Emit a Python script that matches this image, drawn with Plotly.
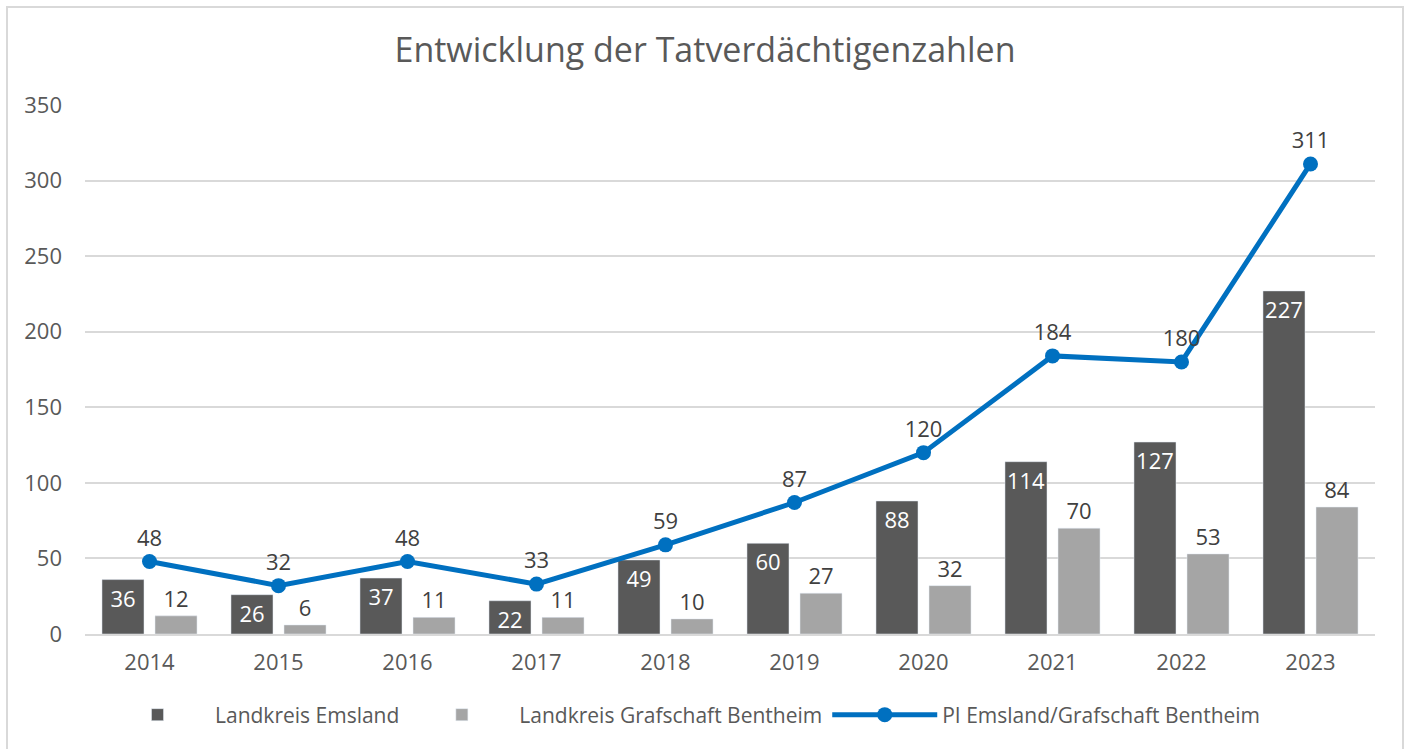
import plotly.graph_objects as go

years = ["2014", "2015", "2016", "2017", "2018", "2019", "2020", "2021", "2022", "2023"]
emsland = [36, 26, 37, 22, 49, 60, 88, 114, 127, 227]
bentheim = [12, 6, 11, 11, 10, 27, 32, 70, 53, 84]
pi_total = [48, 32, 48, 33, 59, 87, 120, 184, 180, 311]

title_text = "Entwicklung der Tatverdächtigenzahlen"
y_ticks = [0, 50, 100, 150, 200, 250, 300, 350]

FONT = "Open Sans"
GRAY_TXT = "#595959"
LBL = 22

fig = go.Figure()
fig.add_trace(go.Bar(
    x=years, y=emsland, name="Landkreis Emsland",
    marker=dict(color="#595959"),
    text=[str(v) for v in emsland], textposition="inside",
    insidetextanchor="end", textangle=0, constraintext="none",
    textfont=dict(family=FONT, size=LBL, color="white"),
    cliponaxis=False,
))
fig.add_trace(go.Bar(
    x=years, y=bentheim, name="Landkreis Grafschaft Bentheim",
    marker=dict(color="#A5A5A5"),
    text=[str(v) for v in bentheim], textposition="outside",
    textangle=0, constraintext="none",
    textfont=dict(family=FONT, size=LBL, color="#404040"),
    cliponaxis=False,
))
fig.add_trace(go.Scatter(
    x=years, y=pi_total, name="PI Emsland/Grafschaft Bentheim",
    mode="lines+markers+text",
    line=dict(color="#0070C0", width=5),
    marker=dict(color="#0070C0", size=15),
    text=[str(v) for v in pi_total], textposition="top center",
    textfont=dict(family=FONT, size=LBL, color="#404040"),
    cliponaxis=False,
))

L, R, T, B = 85, 35, 105, 115
W, H = 1410, 749
pw, ph = W - L - R, H - T - B

def px_to_paper_x(px):
    return (px - L) / pw

def px_to_paper_y(py):
    return (H - B - py) / ph

fig.update_layout(
    width=W, height=H,
    margin=dict(l=L, r=R, t=T, b=B, autoexpand=False),
    paper_bgcolor="white", plot_bgcolor="white",
    font=dict(family=FONT, color=GRAY_TXT, size=21),
    title=dict(text=title_text, x=0.5, xanchor="center", y=1 - 50 / H, yanchor="middle",
               font=dict(family=FONT, size=34, color=GRAY_TXT)),
    barmode="group", bargap=0.178, bargroupgap=0.2075,
    showlegend=True,
    legend=dict(orientation="h", x=px_to_paper_x(100), xanchor="left",
                y=px_to_paper_y(715), yanchor="middle",
                font=dict(family=FONT, size=21, color=GRAY_TXT),
                itemwidth=105, traceorder="normal"),
    xaxis=dict(range=[-0.5, len(years) - 0.5], showgrid=False, showline=True,
               linecolor="#d9d9d9", linewidth=1.5,
               ticks="", automargin=False, ticklabelstandoff=8,
               tickfont=dict(family=FONT, size=22, color=GRAY_TXT)),
    yaxis=dict(range=[0, 350], tickvals=y_ticks, showgrid=True, gridcolor="#d9d9d9",
               gridwidth=1.5, zeroline=False, showline=False, ticks="",
               automargin=False, ticklabelstandoff=22,
               tickfont=dict(family=FONT, size=22, color=GRAY_TXT)),
    shapes=[dict(type="rect", xref="paper", yref="paper",
                 x0=px_to_paper_x(7), x1=px_to_paper_x(1403),
                 y0=px_to_paper_y(760), y1=px_to_paper_y(7),
                 line=dict(color="#d9d9d9", width=2), fillcolor="rgba(0,0,0,0)",
                 layer="below")],
)

fig.write_html("out.html", config={"displayModeBar": False},
               post_script="document.body.style.margin='0';document.body.style.overflow='hidden';")
